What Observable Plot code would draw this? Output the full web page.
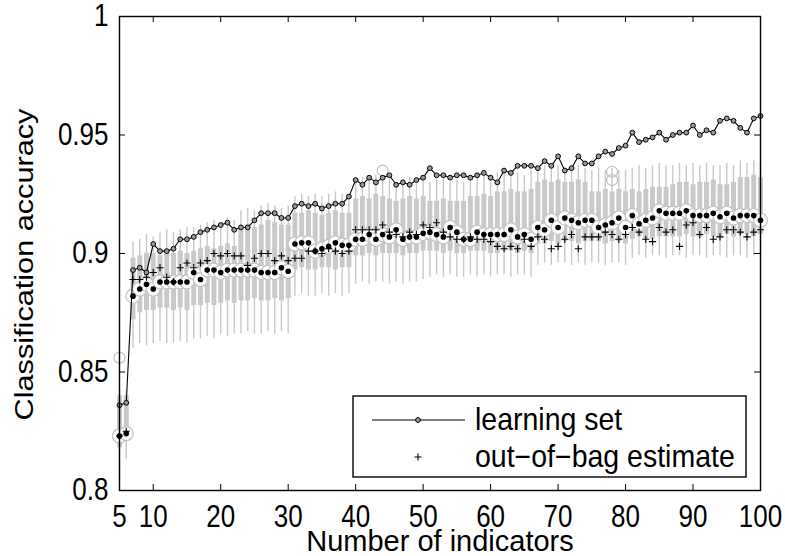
<!DOCTYPE html>
<html><head><meta charset="utf-8">
<script src="https://cdn.jsdelivr.net/npm/d3@7"></script>
<script src="https://cdn.jsdelivr.net/npm/@observablehq/plot@0.6"></script>
<style>
body{margin:0;background:#fff}
#chart{position:relative;width:785px;height:556px}
svg{font-family:"Liberation Sans",Arial,sans-serif}
</style>
</head><body><div id="chart"></div>
<script>
const indicators = [5,6,7,8,9,10,11,12,13,14,15,16,17,18,19,20,21,22,23,24,25,26,27,28,29,30,31,32,33,34,35,36,37,38,39,40,41,42,43,44,45,46,47,48,49,50,51,52,53,54,55,56,57,58,59,60,61,62,63,64,65,66,67,68,69,70,71,72,73,74,75,76,77,78,79,80,81,82,83,84,85,86,87,88,89,90,91,92,93,94,95,96,97,98,99,100];
const learningSet = [
0.836,0.837,0.893,0.894,0.892,0.904,0.901,0.901,0.902,0.906,
0.906,0.907,0.909,0.910,0.911,0.912,0.913,0.910,0.911,0.911,
0.914,0.917,0.917,0.917,0.915,0.915,0.920,0.921,0.920,0.921,
0.919,0.920,0.921,0.921,0.924,0.931,0.929,0.932,0.930,0.932,
0.933,0.929,0.930,0.929,0.931,0.932,0.936,0.933,0.933,0.932,
0.933,0.933,0.932,0.933,0.934,0.932,0.930,0.935,0.934,0.937,
0.937,0.937,0.936,0.939,0.937,0.941,0.935,0.936,0.941,0.938,
0.938,0.941,0.943,0.942,0.9445,0.9455,0.951,0.947,0.948,0.949,
0.951,0.948,0.950,0.951,0.951,0.954,0.950,0.952,0.951,0.956,
0.957,0.956,0.953,0.951,0.957,0.958];
const outOfBag = [
0.823,0.825,0.889,0.889,0.890,0.892,0.894,0.890,0.888,0.894,
0.896,0.894,0.896,0.897,0.900,0.899,0.900,0.899,0.899,0.895,
0.898,0.900,0.900,0.897,0.899,0.897,0.898,0.898,0.901,0.901,
0.900,0.902,0.901,0.900,0.901,0.910,0.910,0.910,0.910,0.912,
0.909,0.908,0.907,0.909,0.908,0.912,0.911,0.913,0.909,0.907,
0.906,0.906,0.907,0.906,0.906,0.905,0.903,0.902,0.903,0.902,
0.906,0.903,0.907,0.906,0.902,0.903,0.906,0.908,0.902,0.907,
0.907,0.907,0.909,0.908,0.906,0.908,0.911,0.909,0.906,0.905,
0.911,0.909,0.910,0.903,0.912,0.913,0.908,0.911,0.906,0.907,
0.910,0.910,0.909,0.907,0.909,0.910];
const median = [
0.823,0.824,0.882,0.885,0.887,0.885,0.888,0.888,0.888,0.888,
0.888,0.892,0.889,0.893,0.893,0.892,0.893,0.893,0.893,0.893,
0.893,0.892,0.892,0.892,0.894,0.8925,0.904,0.9045,0.9045,0.901,
0.902,0.903,0.9045,0.9035,0.9035,0.906,0.906,0.908,0.906,0.908,
0.907,0.910,0.906,0.907,0.907,0.9085,0.909,0.908,0.907,0.911,
0.909,0.906,0.906,0.909,0.908,0.908,0.908,0.908,0.910,0.907,
0.908,0.906,0.911,0.910,0.914,0.911,0.915,0.914,0.913,0.914,
0.914,0.911,0.912,0.913,0.915,0.911,0.916,0.9125,0.914,0.915,
0.918,0.917,0.917,0.917,0.918,0.916,0.916,0.916,0.917,0.9155,
0.917,0.915,0.916,0.916,0.916,0.914];
const boxLow = [
0.818,0.826,0.872,0.875,0.876,0.876,0.877,0.877,0.876,0.877,
0.876,0.878,0.878,0.879,0.878,0.879,0.880,0.879,0.880,0.880,
0.881,0.880,0.880,0.881,0.880,0.881,0.893,0.894,0.893,0.893,
0.894,0.894,0.893,0.894,0.894,0.899,0.899,0.900,0.899,0.900,
0.900,0.900,0.899,0.900,0.900,0.901,0.901,0.901,0.900,0.901,
0.900,0.900,0.901,0.901,0.901,0.900,0.900,0.901,0.901,0.900,
0.901,0.900,0.904,0.904,0.905,0.904,0.905,0.905,0.904,0.905,
0.905,0.905,0.904,0.905,0.905,0.904,0.906,0.907,0.906,0.906,
0.907,0.907,0.907,0.907,0.908,0.907,0.907,0.908,0.907,0.907,
0.908,0.907,0.908,0.908,0.907,0.908];
const boxHigh = [
0.840,0.840,0.898,0.899,0.900,0.900,0.899,0.900,0.900,0.901,
0.900,0.901,0.902,0.903,0.902,0.903,0.904,0.903,0.910,0.912,
0.911,0.912,0.914,0.913,0.912,0.912,0.917,0.917,0.918,0.917,
0.916,0.917,0.918,0.917,0.917,0.923,0.924,0.923,0.925,0.924,
0.923,0.922,0.923,0.924,0.923,0.924,0.922,0.922,0.923,0.922,
0.922,0.922,0.924,0.924,0.925,0.924,0.926,0.926,0.927,0.926,
0.926,0.927,0.930,0.931,0.930,0.931,0.930,0.930,0.931,0.930,
0.926,0.926,0.927,0.926,0.927,0.926,0.927,0.926,0.927,0.928,
0.928,0.928,0.929,0.930,0.930,0.929,0.930,0.930,0.931,0.929,
0.929,0.930,0.932,0.932,0.933,0.932];
const whiskerLow = [
0.804,0.813,0.860,0.862,0.861,0.862,0.863,0.862,0.862,0.863,
0.862,0.864,0.864,0.865,0.864,0.866,0.865,0.866,0.866,0.867,
0.866,0.866,0.867,0.866,0.867,0.866,0.882,0.883,0.882,0.882,
0.883,0.882,0.883,0.882,0.883,0.887,0.888,0.887,0.888,0.888,
0.887,0.888,0.887,0.888,0.888,0.889,0.890,0.891,0.890,0.891,
0.890,0.890,0.891,0.890,0.891,0.890,0.891,0.891,0.890,0.891,
0.891,0.890,0.895,0.896,0.895,0.896,0.896,0.895,0.896,0.895,
0.896,0.896,0.895,0.896,0.896,0.895,0.898,0.899,0.898,0.899,
0.899,0.898,0.899,0.899,0.898,0.899,0.899,0.898,0.899,0.899,
0.898,0.899,0.899,0.898,0.899,0.899];
const whiskerHigh = [
0.842,0.842,0.905,0.906,0.908,0.907,0.909,0.910,0.909,0.910,
0.911,0.911,0.912,0.913,0.914,0.913,0.915,0.914,0.918,0.919,
0.918,0.920,0.921,0.920,0.919,0.920,0.924,0.925,0.924,0.925,
0.924,0.925,0.926,0.925,0.925,0.931,0.932,0.931,0.933,0.932,
0.931,0.930,0.931,0.932,0.931,0.932,0.930,0.931,0.932,0.930,
0.931,0.930,0.932,0.933,0.933,0.932,0.934,0.934,0.935,0.934,
0.933,0.935,0.936,0.937,0.936,0.937,0.936,0.936,0.937,0.936,
0.935,0.936,0.935,0.936,0.935,0.935,0.936,0.937,0.936,0.937,
0.938,0.937,0.937,0.938,0.937,0.938,0.937,0.938,0.937,0.937,
0.938,0.937,0.939,0.938,0.939,0.938];
const outlierN = [5, 44, 78, 78];
const outlierValue = [0.856, 0.935, 0.9345, 0.931];
const xTicks = [5,10,20,30,40,50,60,70,80,90,100];
const yTicks = [0.8,0.85,0.9,0.95,1];
const yTickLabels = ["0.8","0.85","0.9","0.95","1"];
const xLabel = "Number of indicators";
const yLabel = "Classification accuracy";
const legendLabels = ["learning set", "out\u2212of\u2212bag estimate"];

const data = indicators.map((n, i) => ({
  n, learn: learningSet[i], oob: outOfBag[i], med: median[i],
  q1: boxLow[i], q3: boxHigh[i], lo: whiskerLow[i], hi: whiskerHigh[i]
}));
const outliers = outlierN.map((n, i) => ({n, v: outlierValue[i]}));

const plusSymbol = {draw(ctx, size) {
  const r = Math.sqrt(size / Math.PI);
  ctx.moveTo(-r, 0); ctx.lineTo(r, 0); ctx.moveTo(0, -r); ctx.lineTo(0, r);
}};

const W = 785, H = 556, ML = 119, MR = 25, MT = 16, MB = 66;
const FS = 26;
const gray = "#c9c9c9";

const svg = Plot.plot({
  width: W, height: H,
  marginLeft: ML, marginRight: MR, marginTop: MT, marginBottom: MB,
  style: {fontFamily: "'Liberation Sans', Arial, sans-serif", background: "white", color: "black"},
  x: {domain: [5, 100]},
  y: {domain: [0.8, 1]},
  marks: [
    Plot.ruleX(data, {x: "n", y1: "lo", y2: "hi", stroke: gray, strokeWidth: 1.4}),
    Plot.ruleX(data, {x: "n", y1: "q1", y2: "q3", stroke: gray, strokeWidth: 5}),
    Plot.dot(outliers, {x: "n", y: "v", r: 5.5, stroke: "#bdbdbd", strokeWidth: 1.2, fill: "none"}),
    Plot.dot(data, {x: "n", y: "med", r: 7, fill: "white", stroke: "#c4c4c4", strokeWidth: 1.3}),
    Plot.dot(data, {x: "n", y: "med", r: 2.8, fill: "black", stroke: "none"}),
    Plot.dot(data, {x: "n", y: "oob", symbol: plusSymbol, r: 3.6, fill: "none", stroke: "black", strokeWidth: 1.1}),
    Plot.line(data, {x: "n", y: "learn", stroke: "black", strokeWidth: 1.1}),
    Plot.dot(data, {x: "n", y: "learn", r: 2.4, fill: "#9a9a9a", stroke: "black", strokeWidth: 1}),
    Plot.ruleX(xTicks, {x: d => d, insetTop: H - MT - MB - 6, stroke: "black", strokeWidth: 1}),
    Plot.ruleX(xTicks, {x: d => d, insetBottom: H - MT - MB - 6, stroke: "black", strokeWidth: 1}),
    Plot.ruleY(yTicks, {y: d => d, insetRight: W - ML - MR - 6, stroke: "black", strokeWidth: 1}),
    Plot.ruleY(yTicks, {y: d => d, insetLeft: W - ML - MR - 6, stroke: "black", strokeWidth: 1}),
    Plot.frame({stroke: "black", strokeWidth: 1.4}),
    Plot.axisX({ticks: xTicks, tickSize: 0, tickPadding: 15, fontSize: FS, tickFormat: d => String(d), label: null}),
    Plot.axisY({ticks: yTicks, tickSize: 0, tickPadding: 11, fontSize: FS, tickFormat: d => yTickLabels[yTicks.indexOf(d)], label: null}),
    Plot.text([xLabel], {frameAnchor: "bottom", dy: 51, fontSize: 29, text: d => d, lineAnchor: "middle", textAnchor: "middle"}),
    Plot.text([yLabel], {frameAnchor: "left", dx: -95, dy: 11, rotate: -90, fontSize: FS, text: d => d, lineAnchor: "middle", textAnchor: "middle"})
  ]
});

// Legend (decoration, pixel layout)
const s = d3.select(svg);
const lg = s.append("g").attr("class", "legend").attr("text-anchor", "start");
lg.append("rect").attr("x", 353).attr("y", 396).attr("width", 393).attr("height", 81)
  .attr("fill", "white").attr("stroke", "black").attr("stroke-width", 1.4);
lg.append("line").attr("x1", 372).attr("x2", 465).attr("y1", 420).attr("y2", 420).attr("stroke", "black").attr("stroke-width", 1.1);
lg.append("circle").attr("cx", 418).attr("cy", 420).attr("r", 2.4).attr("fill", "#9a9a9a").attr("stroke", "black");
lg.append("path").attr("d", "M414.4,457H421.6M418,453.4V460.6").attr("stroke", "black").attr("stroke-width", 1.1);
lg.append("text").attr("class", "lgtext").attr("x", 475).attr("y", 420).attr("dy", "0.32em").attr("font-size", 28.5).attr("text-anchor", "start").text(legendLabels[0]);
lg.append("text").attr("class", "lgtext").attr("x", 475).attr("y", 457).attr("dy", "0.32em").attr("font-size", 28.5).attr("text-anchor", "start").text(legendLabels[1]);

// Stretch text to mimic the source rendering
function stretch(node, sx, sy) {
  let t = node.getAttribute("transform") || "";
  const xs = node.getAttribute("x"), ys = node.getAttribute("y");
  let tx = 0, ty = 0, moved = false;
  if (xs != null && !/em$/.test(xs)) { tx = +xs; node.removeAttribute("x"); moved = true; }
  if (ys != null && !/em$/.test(ys)) { ty = +ys; node.removeAttribute("y"); moved = true; }
  t = (t + (moved ? ` translate(${tx},${ty})` : "") + ` scale(${sx},${sy})`).trim();
  node.setAttribute("transform", t);
}
s.selectAll("text").each(function() {
  const txt = this.textContent;
  const rotated = /rotate\(-90\)/.test(this.getAttribute("transform") || "");
  if (rotated) stretch(this, 1.18, 1);
  else if (txt === xLabel) stretch(this, 1, 1.04);
  else if (this.classList.contains("lgtext")) stretch(this, 1, 1.07);
  else stretch(this, 1, 1.18);
});

document.getElementById("chart").appendChild(svg);
</script>
</body></html>
